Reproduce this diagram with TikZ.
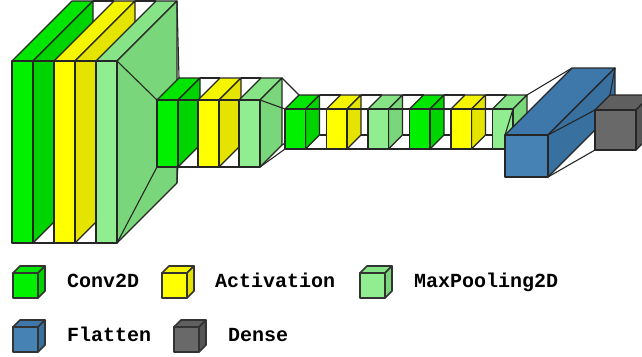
\documentclass[tikz,border=0pt]{standalone}
\usepackage{fontspec}
\newfontfamily\legfont{Liberation Mono}
\definecolor{convF}{RGB}{0,240,0}
\definecolor{convT}{RGB}{0,230,0}
\definecolor{convS}{RGB}{0,212,0}
\definecolor{actF}{RGB}{255,255,0}
\definecolor{actT}{RGB}{245,245,0}
\definecolor{actS}{RGB}{228,228,0}
\definecolor{poolF}{RGB}{144,238,144}
\definecolor{poolT}{RGB}{134,228,134}
\definecolor{poolS}{RGB}{122,214,122}
\definecolor{flatF}{RGB}{70,130,180}
\definecolor{flatT}{RGB}{62,120,170}
\definecolor{flatS}{RGB}{56,112,160}
\definecolor{denseF}{RGB}{105,105,105}
\definecolor{denseT}{RGB}{95,95,95}
\definecolor{denseS}{RGB}{85,85,85}
\tikzset{
  vkline/.style={draw=black!85, line width=1.1pt, line join=round},
  legline/.style={draw=black!80, line width=1.6pt, line join=round},
  legtext/.style={anchor=base west, inner sep=0pt, font=\legfont\bfseries\fontsize{20}{20}\selectfont},
}
% coordinates of a box: name, x, y, w, h, depth
\newcommand\vkbox[6]{%
  \coordinate (#1-ftl) at (#2,#3);
  \coordinate (#1-ftr) at ({#2+#4},#3);
  \coordinate (#1-fbr) at ({#2+#4},{#3+#5});
  \coordinate (#1-fbl) at (#2,{#3+#5});
  \coordinate (#1-btl) at ({#2+#6},{#3-#6});
  \coordinate (#1-btr) at ({#2+#4+#6},{#3-#6});
  \coordinate (#1-bbr) at ({#2+#4+#6},{#3+#5-#6});
  \coordinate (#1-bbl) at ({#2+#6},{#3+#5-#6});
}
% paint a box: name, colour prefix, line style
\newcommand\vkpaint[3]{%
  \filldraw[#3, fill=#2T] (#1-ftl) -- (#1-btl) -- (#1-btr) -- (#1-ftr) -- cycle;
  \filldraw[#3, fill=#2S] (#1-ftr) -- (#1-btr) -- (#1-bbr) -- (#1-fbr) -- cycle;
  \filldraw[#3, fill=#2F] (#1-ftl) rectangle (#1-fbr);
}
\newcommand\vkfunnel[2]{%
  \draw[vkline] (#1-ftr) -- (#2-ftl) (#1-btr) -- (#2-btl)
                (#1-bbr) -- (#2-bbl) (#1-fbr) -- (#2-fbl);
}
\begin{document}
\begin{tikzpicture}[x=1pt, y=-1pt]
\path[use as bounding box] (0,0) rectangle (642,356);
\clip (0,0) rectangle (642,356);
% geometry
\vkbox{a1}{12}{61}{21}{182}{60}
\vkbox{a2}{54}{61}{21}{182}{60}
\vkbox{a3}{96}{61}{21}{182}{60}
\vkbox{b1}{157}{100}{21}{67}{22}
\vkbox{b2}{198}{100}{21}{67}{22}
\vkbox{b3}{239}{100}{21}{67}{22}
\vkbox{c1}{285}{109}{20.5}{40}{14}
\vkbox{c2}{326.5}{109}{20.5}{40}{14}
\vkbox{c3}{368}{109}{20.5}{40}{14}
\vkbox{c4}{409.5}{109}{20.5}{40}{14}
\vkbox{c5}{451}{109}{20.5}{40}{14}
\vkbox{c6}{492.5}{109}{20.5}{40}{14}
\vkbox{fl}{505}{135}{43}{42}{67}
\vkbox{de}{595}{110}{41}{40}{15}
% painting, in order
\vkpaint{a1}{conv}{vkline}  \vkfunnel{a1}{a2}
\vkpaint{a2}{act}{vkline}   \vkfunnel{a2}{a3}
\vkpaint{a3}{pool}{vkline}  \vkfunnel{a3}{b1}
\vkpaint{b1}{conv}{vkline}  \vkfunnel{b1}{b2}
\vkpaint{b2}{act}{vkline}   \vkfunnel{b2}{b3}
\vkpaint{b3}{pool}{vkline}  \vkfunnel{b3}{c1}
\vkpaint{c1}{conv}{vkline}  \vkfunnel{c1}{c2}
\vkpaint{c2}{act}{vkline}   \vkfunnel{c2}{c3}
\vkpaint{c3}{pool}{vkline}  \vkfunnel{c3}{c4}
\vkpaint{c4}{conv}{vkline}  \vkfunnel{c4}{c5}
\vkpaint{c5}{act}{vkline}   \vkfunnel{c5}{c6}
\vkpaint{c6}{pool}{vkline}  \vkfunnel{c6}{fl}
\vkpaint{fl}{flat}{vkline}  \vkfunnel{fl}{de}
\vkpaint{de}{dense}{vkline}
% legend
\vkbox{lg1}{13}{273}{25}{25}{7}  \vkpaint{lg1}{conv}{legline}
\node[legtext] (t1) at (67,287.5) {Conv2D};
\vkbox{lg2}{162}{273}{25}{25}{7} \vkpaint{lg2}{act}{legline}
\node[legtext] (t2) at (215,287.5) {Activation};
\vkbox{lg3}{360}{273}{25}{25}{7} \vkpaint{lg3}{pool}{legline}
\node[legtext] (t3) at (414,287.5) {MaxPooling2D};
\vkbox{lg4}{13}{327}{25}{25}{7}  \vkpaint{lg4}{flat}{legline}
\node[legtext] (t4) at (67,341) {Flatten};
\vkbox{lg5}{174}{327}{25}{25}{7} \vkpaint{lg5}{dense}{legline}
\node[legtext] (t5) at (228,341) {Dense};
\end{tikzpicture}
\end{document}
